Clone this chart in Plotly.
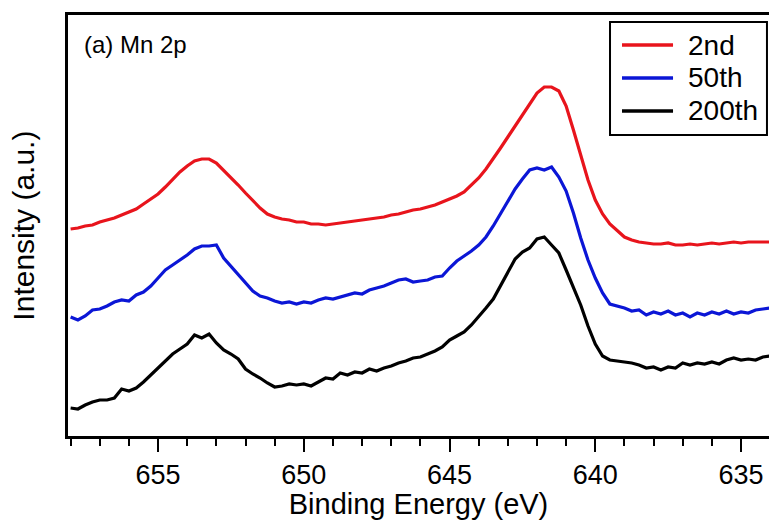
import numpy as np
import plotly.graph_objects as go

# Binding-energy grid (eV), 658 -> 634 in 0.25 eV steps
energy = np.round(np.linspace(658.0, 634.0, 97), 2)

# Mn 2p intensity (a.u.) after 2, 50 and 200 cycles
cycle_2nd = [
    207, 208, 210, 211, 214, 216, 218, 221,
    224, 227, 232, 237, 242, 249, 257, 264,
    270, 275, 277, 277, 273, 266, 258, 251,
    243, 235, 228, 222, 219, 217, 216, 214,
    214, 212, 212, 211, 212, 213, 214, 215,
    216, 217, 218, 219, 221, 222, 224, 226,
    227, 229, 231, 234, 237, 240, 244, 251,
    258, 267, 277, 288, 299, 310, 321, 333,
    343, 349, 349, 345, 330, 306, 282, 256,
    236, 222, 212, 205, 199, 196, 194, 193,
    192, 192, 193, 191, 191, 192, 191, 192,
    193, 192, 193, 194, 193, 194, 194, 194,
    194,
]
cycle_50th = [
    119, 116, 120, 126, 127, 130, 134, 136,
    135, 141, 144, 150, 158, 166, 171, 176,
    181, 187, 190, 190, 191, 178, 170, 162,
    153, 145, 140, 138, 135, 133, 134, 132,
    134, 133, 136, 138, 137, 139, 141, 143,
    142, 146, 148, 150, 153, 156, 157, 154,
    155, 156, 159, 160, 168, 175, 180, 185,
    191, 199, 210, 222, 235, 247, 257, 266,
    268, 266, 269, 259, 245, 223, 198, 176,
    158, 143, 132, 130, 128, 125, 126, 121,
    124, 122, 125, 121, 123, 119, 123, 121,
    124, 122, 125, 122, 124, 123, 126, 127,
    128,
]
cycle_200th = [
    28, 27, 31, 34, 36, 36, 38, 47,
    45, 48, 54, 61, 67, 75, 82, 87,
    92, 101, 98, 102, 93, 86, 82, 77,
    67, 62, 58, 53, 49, 50, 52, 51,
    52, 50, 54, 58, 57, 63, 61, 64,
    63, 67, 65, 68, 70, 73, 75, 78,
    79, 82, 85, 89, 96, 100, 104, 111,
    119, 128, 137, 150, 163, 177, 184, 188,
    197, 199, 191, 183, 166, 148, 131, 110,
    92, 80, 76, 75, 74, 73, 71, 68,
    69, 66, 69, 68, 73, 71, 73, 72,
    74, 72, 76, 78, 76, 77, 76, 79,
    80,
]

series_names = ["2nd", "50th", "200th"]
series_colors = ["#e8141c", "#0b16d6", "#000000"]
x_ticks = [655, 650, 645, 640, 635]

FONT = "Liberation Sans, Arial, sans-serif"

fig = go.Figure()
for name, color, vals in zip(series_names, series_colors,
                             [cycle_2nd, cycle_50th, cycle_200th]):
    fig.add_trace(go.Scatter(
        x=energy, y=vals, mode="lines", name=name,
        line=dict(color=color, width=3.2),
    ))

# Boxed legend in the top-right corner (paper coordinates)
shapes = [dict(type="rect", xref="paper", yref="paper",
               x0=0.7732, x1=0.9971, y0=0.715, y1=0.9834,
               line=dict(color="black", width=2), fillcolor="white",
               layer="above")]
annotations = [
    dict(text="(a) Mn 2p", xref="paper", yref="paper",
         x=0.02, y=0.93, xanchor="left", yanchor="middle",
         showarrow=False, font=dict(size=24, family=FONT)),
    # vertical axis title
    dict(text="Intensity (a.u.)", xref="paper", yref="paper",
         x=-0.064, y=0.5, xanchor="center", yanchor="middle",
         textangle=-90, showarrow=False, font=dict(size=30, family=FONT)),
]
row_y = [0.9287, 0.8504, 0.772]
for name, color, yy in zip(series_names, series_colors, row_y):
    shapes.append(dict(type="line", xref="paper", yref="paper",
                       x0=0.7903, x1=0.8631, y0=yy, y1=yy,
                       line=dict(color=color, width=3.5), layer="above"))
    annotations.append(dict(
        text=name, xref="paper", yref="paper", x=0.8816, y=yy,
        xanchor="left", yanchor="middle", showarrow=False,
        font=dict(size=28, family=FONT),
    ))

fig.update_layout(
    width=769, height=520,
    margin=dict(l=68, r=0, t=15, b=84),
    plot_bgcolor="white", paper_bgcolor="white",
    font=dict(family=FONT, color="black"),
    showlegend=False,
    shapes=shapes,
    annotations=annotations,
)

fig.update_xaxes(
    range=[658.09, 634.04], autorange=False,
    tickmode="array", tickvals=x_ticks, ticktext=[str(t) for t in x_ticks],
    ticks="outside", ticklen=13, tickwidth=2, tickcolor="black",
    tickfont=dict(size=27, family=FONT),
    minor=dict(dtick=1, tick0=634, ticks="outside", ticklen=7,
               tickwidth=2, tickcolor="black"),
    showline=True, linewidth=2.5, linecolor="black", mirror=True,
    showgrid=False, zeroline=False,
    title=dict(text="Binding Energy (eV)", font=dict(size=29, family=FONT),
               standoff=2),
)
fig.update_yaxes(
    range=[0, 421], autorange=False,
    showticklabels=False, ticks="",
    showline=True, linewidth=2.5, linecolor="black", mirror=False,
    showgrid=False, zeroline=False,
)

fig.write_html("out.html")
